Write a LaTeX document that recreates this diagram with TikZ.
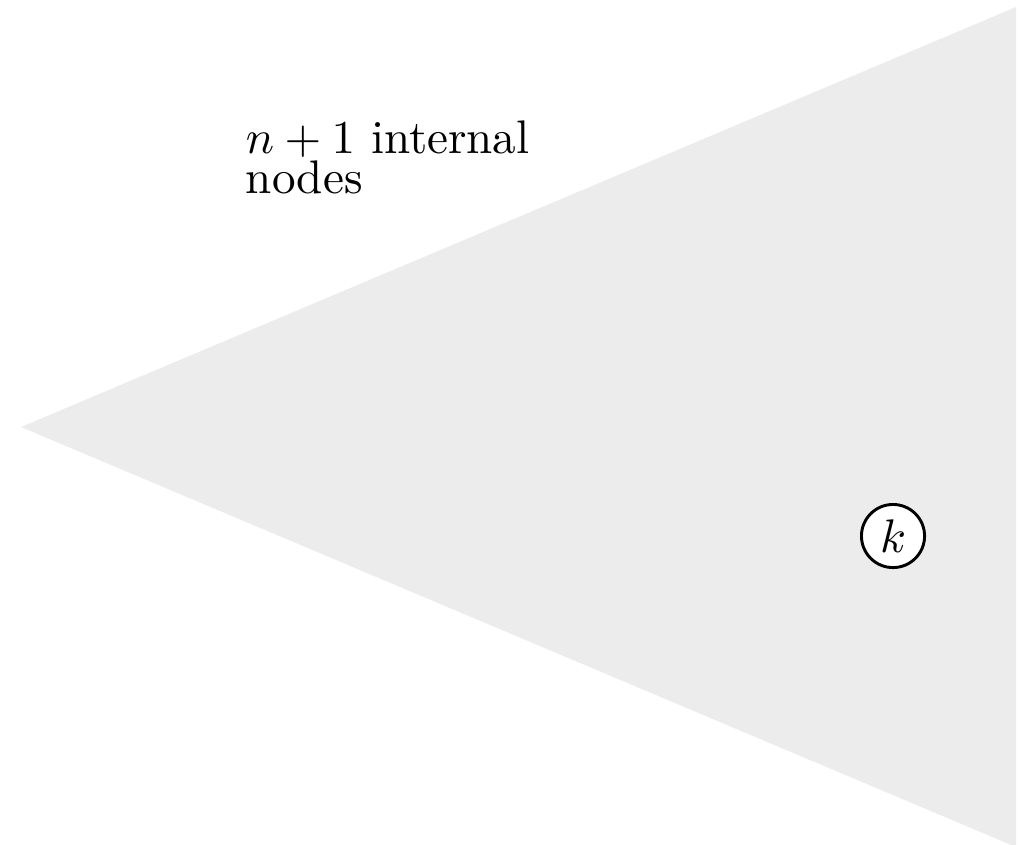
\documentclass[tikz,border=0pt]{standalone}
\begin{document}
\begin{tikzpicture}[x=0.2123pt, y=-0.2123pt,
  region/.style={fill=gray!15, draw=none},
  vertex/.style={circle, draw, fill=white, line width=0.62pt, minimum size=13.4pt, inner sep=0pt},
  caption/.style={align=left, inner sep=0pt, anchor=base west, font={\fontsize{10}{8.3}\selectfont}}]
  % canvas
  \useasboundingbox (0,0) rectangle (1021,844);
  % subtree region
  \coordinate (apex) at (21,427);
  \coordinate (top) at (1016,7);
  \coordinate (bot) at (1016,847);
  \begin{scope}
    \clip (0,0) rectangle (1021,844);
    \fill[region] (apex) -- (top) -- (bot) -- cycle;
  \end{scope}
  % label (anchored at the baseline of its last line)
  \node[caption] (lbl) at (245,193) {$n+1$ internal\\nodes};
  % key node
  \node[vertex] (k) at (893,536) {$k$};
\end{tikzpicture}
\end{document}
